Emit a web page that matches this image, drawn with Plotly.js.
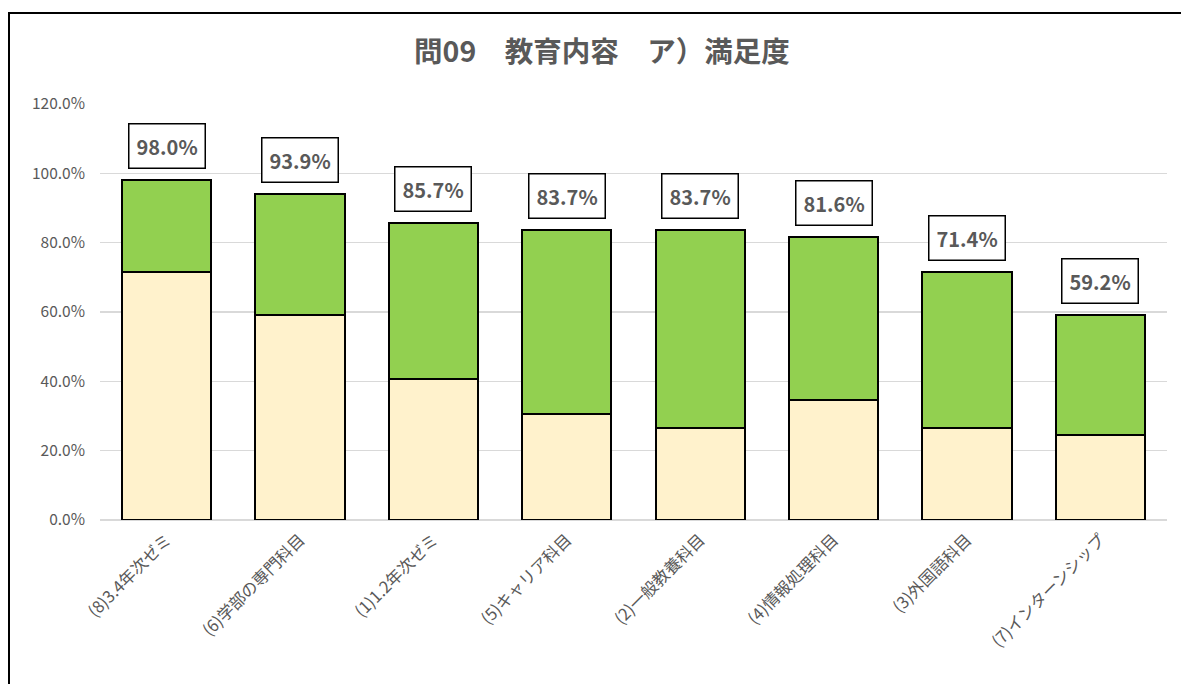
<!DOCTYPE html>
<html>
<head>
<meta charset="utf-8">
<script src="https://cdn.plot.ly/plotly-3.0.1.min.js"></script>
<style>
  html, body { margin: 0; padding: 0; background: #ffffff; }
  #frame { position: absolute; left: 8px; top: 12px; width: 1173px; height: 672px;
           border-top: 2px solid #000; border-left: 2px solid #000; box-sizing: border-box; }
  #chart { width: 1171px; height: 670px; }
</style>
</head>
<body>
<div id="frame"><div id="chart"></div></div>
<script>
const categories = ["(8)3.4年次ゼミ", "(6)学部の専門科目", "(1)1.2年次ゼミ", "(5)キャリア科目",
                    "(2)一般教養科目", "(4)情報処理科目", "(3)外国語科目", "(7)インターンシップ"];
const satisfied = [71.4, 59.2, 40.8, 30.6, 26.5, 34.7, 26.5, 24.5];
const somewhatSatisfied = [26.6, 34.7, 44.9, 53.1, 57.2, 46.9, 44.9, 34.7];
const totals = satisfied.map((v, i) => Math.round((v + somewhatSatisfied[i]) * 10) / 10);
const yTickVals = [0, 20, 40, 60, 80, 100, 120];
const yTickText = yTickVals.map(v => v.toFixed(1) + "%");

const FONT = "'Noto Sans CJK JP', 'Noto Sans', sans-serif";
const GREY = "#595959";

const traces = [
  { type: "bar", name: "満足", x: categories, y: satisfied,
    marker: { color: "#fff2cc", line: { color: "#000000", width: 2 } }, hoverinfo: "x+y" },
  { type: "bar", name: "やや満足", x: categories, y: somewhatSatisfied,
    marker: { color: "#92d050", line: { color: "#000000", width: 2 } }, hoverinfo: "x+y" }
];

const annotations = categories.map((c, i) => ({
  x: c, y: totals[i], xref: "x", yref: "y",
  text: totals[i].toFixed(1) + "%",
  showarrow: false, yanchor: "bottom", yshift: 11,
  font: { family: FONT, size: 20, color: GREY, weight: "bold" },
  bordercolor: "#000000", borderwidth: 1.5, borderpad: 7, bgcolor: "#ffffff"
}));

const layout = {
  width: 1171, height: 670,
  margin: { l: 90, r: 14, t: 90, b: 164 },
  paper_bgcolor: "#ffffff", plot_bgcolor: "#ffffff",
  barmode: "stack", bargap: 0.33,
  showlegend: false,
  font: { family: FONT, color: GREY },
  title: { text: "<b>問09　教育内容　ア）満足度</b>", x: 0.5055, xref: "container", xanchor: "center",
           y: 0.943, yref: "container", yanchor: "middle",
           font: { family: FONT, size: 28.5, color: GREY } },
  xaxis: { type: "category", tickangle: -45, tickfont: { family: FONT, size: 16.5, color: GREY },
           showgrid: false, showline: false, ticks: "", zeroline: false, ticklabelstandoff: 6 },
  yaxis: { range: [0, 120], tickvals: yTickVals, ticktext: yTickText,
           tickfont: { family: FONT, size: 15.5, color: GREY },
           showgrid: true, gridcolor: "#d9d9d9", gridwidth: 1.5,
           zeroline: true, zerolinecolor: "#d9d9d9", zerolinewidth: 1.5,
           showline: false, ticks: "", ticklabelstandoff: 14 },
  annotations: annotations
};

Plotly.newPlot("chart", traces, layout, { displayModeBar: false, staticPlot: true });
</script>
</body>
</html>
